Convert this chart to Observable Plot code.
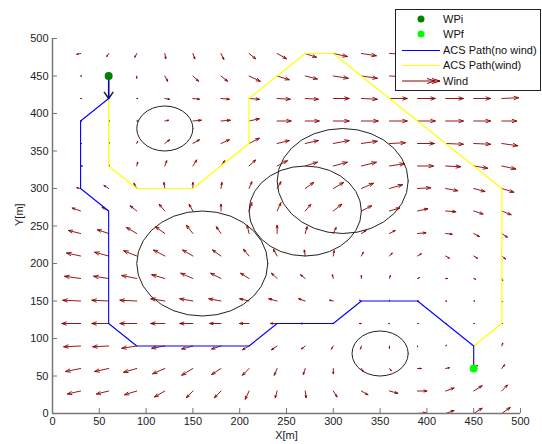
<!DOCTYPE html>
<html><head><meta charset="utf-8">
<script src="https://cdn.jsdelivr.net/npm/d3@7"></script>
<script src="https://cdn.jsdelivr.net/npm/@observablehq/plot@0.6"></script>
<style>body{margin:0;background:#fff;}</style>
</head><body><div id="chart"></div>
<script>
// ---- data ----
const xGrid = [0,30,60,90,120,150,180,210,240,270,300,330,360,390,420,450,480];
const yGrid = [480,450,420,390,360,330,300,270,240,210,180,150,120,90,60,30,0];
// wind vector components (data units), one row per yGrid value, one column per xGrid value
const windU = [
  [-2,-4,-2,-2,1,2,3,7,10,12,15,16,16,17,17,17,17],
  [-1,1,0,0,3,6,7,12,13,13,16,17,18,18,18,18,18],
  [-1,1,0,1,5,7,9,11,14,14,17,17,19,19,19,18,18],
  [-1,1,1,1,4,9,10,11,15,15,17,18,19,19,19,18,16],
  [-1,1,1,1,5,7,9,11,13,14,17,17,17,18,19,18,17],
  [-1,2,1,1,2,4,4,7,11,13,15,16,16,17,16,15,15],
  [-2,-4,-5,-3,-1,0,1,3,4,9,11,13,14,14,13,12,13],
  [-2,-9,-7,-7,-6,-4,0,3,4,6,9,11,11,11,11,10,10],
  [-2,-13,-12,-11,-10,-7,-5,-2,0,2,3,5,6,9,7,6,6],
  [-2,-15,-15,-14,-12,-11,-9,-6,-4,-1,1,2,3,4,4,4,4],
  [-2,-17,-16,-16,-14,-13,-11,-9,-6,-5,-1,0,1,2,2,2,1],
  [-2,-19,-18,-18,-15,-14,-13,-10,-9,-7,-4,-2,0,1,1,1,1],
  [-2,-20,-18,-18,-15,-14,-12,-10,-7,-5,-2,-2,-1,1,1,1,1],
  [-2,-18,-17,-16,-14,-12,-10,-7,-6,-4,-2,-1,0,0,1,1,1],
  [-2,-16,-15,-14,-13,-12,-10,-7,-3,-2,0,2,2,4,4,4,3],
  [-2,-14,-13,-13,-11,-7,-7,-4,-2,1,4,7,9,10,9,9,6],
  [-2,-10,-10,-10,-9,-7,-6,-4,-1,2,4,6,7,9,9,9,9]
];
const windV = [
  [-1,-1,-4,-5,-7,-7,-8,-7,-7,-5,-4,-3,-1,-1,0,0,0],
  [0,0,-3,-3,-7,-7,-7,-7,-5,-4,-3,-3,-1,-1,0,0,0],
  [0,0,-1,0,-1,-1,-1,-1,-1,-1,0,-1,0,0,0,0,1],
  [0,0,0,0,1,1,1,3,0,0,0,0,0,0,0,0,0],
  [0,0,1,3,5,5,5,7,4,4,4,3,1,0,-1,-1,-3],
  [0,0,1,5,7,8,7,8,7,5,5,5,3,0,-1,-3,-4],
  [0,1,4,7,8,8,8,9,9,8,8,7,5,1,-3,-4,-5],
  [1,4,5,7,9,9,9,11,11,9,9,7,4,3,-1,-4,-5],
  [0,4,5,8,9,11,9,11,11,9,8,4,4,1,-1,-4,-5],
  [0,4,5,7,8,8,8,9,9,8,7,5,4,3,-3,-3,-4],
  [0,3,3,4,5,7,7,7,7,5,5,4,4,1,0,-1,-3],
  [0,1,1,1,3,3,3,3,3,3,1,1,1,0,0,0,-1],
  [0,0,0,0,0,0,0,0,0,0,0,0,0,0,0,0,0],
  [0,-1,-1,-3,-3,-4,-4,-5,-5,-4,-4,-4,-3,-1,1,1,4],
  [0,-4,-4,-5,-7,-9,-8,-9,-9,-8,-7,-4,-3,0,1,4,5],
  [0,-4,-4,-5,-8,-9,-9,-11,-9,-9,-8,-5,-3,0,4,7,8],
  [0,-4,-4,-5,-7,-8,-9,-9,-9,-9,-8,-5,-3,1,4,7,8]
];
const obstacleX = [120,160,270,310,350];
const obstacleY = [380,200,270,310,80];
const obstacleR = [30,70,60,70,30];
const pathNoWindX = [60,60,30,30,60,60,90,210,240,300,330,390,450,450];
const pathNoWindY = [450,420,390,300,270,120,90,90,120,120,150,150,90,60];
const pathWindX = [60,60,60,90,150,210,210,270,300,480,480,450,450];
const pathWindY = [450,420,330,300,300,360,420,480,480,300,120,90,60];
const wpiX = [60], wpiY = [450];
const wpfX = [450], wpfY = [60];
const xTicks = [0,50,100,150,200,250,300,350,400,450,500];
const yTicks = [0,50,100,150,200,250,300,350,400,450,500];
const legendLabels = ["WPi","WPf","ACS Path(no wind)","ACS Path(wind)","Wind"];
const xLabel = "X[m]", yLabel = "Y[m]";

// ---- build tables ----
const wind = [];
yGrid.forEach((y, i) => xGrid.forEach((x, j) => wind.push({x, y, u: windU[i][j], v: windV[i][j]})));
const NSEG = 28;
const circlePts = [];
obstacleX.forEach((cx, k) => {
  for (let s = 0; s <= NSEG; s++) {
    const a = 2 * Math.PI * s / NSEG;
    circlePts.push({k, x: cx + obstacleR[k] * Math.cos(a), y: obstacleY[k] + obstacleR[k] * Math.sin(a)});
  }
});
const pathNoWind = pathNoWindX.map((x, i) => ({x, y: pathNoWindY[i]}));
const pathWind = pathWindX.map((x, i) => ({x, y: pathWindY[i]}));
const startArrow = [{x1: pathNoWindX[0], y1: pathNoWindY[0], x2: pathNoWindX[1], y2: pathNoWindY[1]}];
const wpi = wpiX.map((x, i) => ({x, y: wpiY[i]}));
const wpf = wpfX.map((x, i) => ({x, y: wpfY[i]}));

const FONT = "'Liberation Sans', Arial, Helvetica, sans-serif";
const WIND_COLOR = "#8b0000";

const chart = Plot.plot({
  width: 542, height: 444,
  marginLeft: 52, marginRight: 22, marginTop: 38, marginBottom: 31,
  x: {domain: [0, 500]},
  y: {domain: [0, 500]},
  style: {fontFamily: FONT, fontSize: "11px", color: "#222", background: "white", overflow: "visible"},
  marks: [
    Plot.line(circlePts, {x: "x", y: "y", z: "k", stroke: "#222", strokeWidth: 1}),
    Plot.arrow(wind, {x1: "x", y1: "y", x2: d => d.x + d.u, y2: d => d.y + d.v,
      stroke: WIND_COLOR, strokeWidth: 0.9, headAngle: 40, headLength: 8, clip: true}),
    Plot.line(pathWind, {x: "x", y: "y", stroke: "#ffff00", strokeWidth: 1.2}),
    Plot.arrow(startArrow, {x1: "x1", y1: "y1", x2: "x2", y2: "y2", stroke: "#222", headAngle: 70, headLength: 9}),
    Plot.line(pathNoWind, {x: "x", y: "y", stroke: "#0000ff", strokeWidth: 1.1}),
    Plot.dot(wpi, {x: "x", y: "y", fill: "#008000", r: 4}),
    Plot.dot(wpf, {x: "x", y: "y", fill: "#00ff00", r: 4}),
    Plot.ruleX([0], {stroke: "#777", strokeWidth: 1.5}),
    Plot.ruleY([0], {stroke: "#777", strokeWidth: 1.5}),
    Plot.axisX({ticks: xTicks, tickSize: -5, tickPadding: 9, label: null, stroke: "#777", fill: "#222"}),
    Plot.axisY({ticks: yTicks, tickSize: -5, tickPadding: 9, label: null, stroke: "#777", fill: "#222"}),
    Plot.text([xLabel], {text: d => d, frameAnchor: "bottom", dy: 25, fill: "#222"}),
    Plot.text([yLabel], {text: d => d, frameAnchor: "left", dx: -33, rotate: -90, fill: "#222"})
  ]
});
document.getElementById("chart").appendChild(chart);

// ---- legend (drawn into the same svg) ----
const svg = d3.select(chart);
const lg = svg.append("g").attr("font-family", FONT).attr("font-size", 11).attr("fill", "#111")
  .attr("text-anchor", "start");
lg.append("rect").attr("x", 395.5).attr("y", 9.5).attr("width", 145).attr("height", 81)
  .attr("fill", "white").attr("stroke", "#222").attr("stroke-width", 1);
const rowY = [19, 34, 50.5, 65.5, 81];
const symX1 = 402, symX2 = 440, textX = 443;
legendLabels.forEach((lab, i) => {
  lg.append("text").attr("x", textX).attr("y", rowY[i]).attr("dy", "0.35em")
    .attr("text-anchor", "start").text(lab);
});
lg.append("circle").attr("cx", 421).attr("cy", rowY[0]).attr("r", 3.5).attr("fill", "#008000");
lg.append("circle").attr("cx", 421).attr("cy", rowY[1]).attr("r", 3.5).attr("fill", "#00ff00");
lg.append("line").attr("x1", symX1).attr("x2", symX2).attr("y1", rowY[2]).attr("y2", rowY[2]).attr("stroke", "#0000ff");
lg.append("line").attr("x1", symX1).attr("x2", symX2).attr("y1", rowY[3]).attr("y2", rowY[3]).attr("stroke", "#ffff00");
lg.append("path").attr("d", `M${symX1},${rowY[4]}H${symX2}M${symX2-8},${rowY[4]-2.5}L${symX2},${rowY[4]}L${symX2-8},${rowY[4]+2.5}M${symX2-13},${rowY[4]-2.5}L${symX2-5},${rowY[4]}L${symX2-13},${rowY[4]+2.5}`)
  .attr("fill", "none").attr("stroke", WIND_COLOR);
</script>
</body></html>
